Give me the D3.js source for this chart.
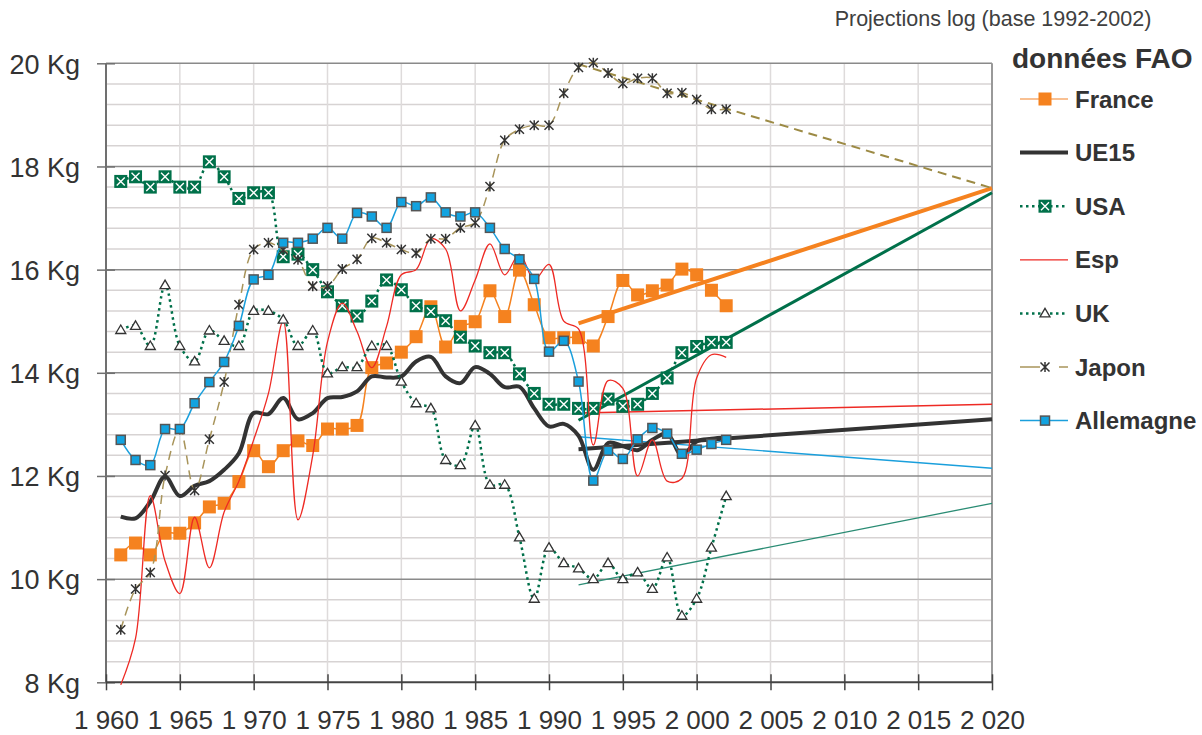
<!DOCTYPE html>
<html>
<head>
<meta charset="utf-8">
<script src="https://cdn.jsdelivr.net/npm/d3@7"></script>
<style>
  body { margin: 0; background: #fff; }
  svg { font-family: "Liberation Sans", Arial, sans-serif; }
</style>
</head>
<body>
<svg id="chart" width="1202" height="735"></svg>
<script>
// Data (kg per person, 1961-2002)
const years = d3.range(1961, 2003);

const france = [10.47, 10.7, 10.47, 10.89, 10.89, 11.09, 11.4, 11.47, 11.89, 12.49,
  12.18, 12.49, 12.68, 12.59, 12.91, 12.91, 12.98, 14.1, 14.19, 14.4,
  14.7, 15.28, 14.5, 14.9, 14.99, 15.59, 15.09, 15.99, 15.32, 14.68,
  14.68, 14.68, 14.52, 15.09, 15.79, 15.51, 15.59, 15.7, 16.01, 15.9,
  15.6, 15.3];

const ue15 = [11.21, 11.18, 11.5, 11.99, 11.61, 11.81, 11.9, 12.12, 12.44, 13.22,
  13.2, 13.51, 13.1, 13.22, 13.51, 13.53, 13.64, 13.93, 13.91, 13.93,
  14.22, 14.31, 13.93, 13.8, 14.11, 13.98, 13.72, 13.73, 13.31, 12.96,
  13.01, 12.78, 12.12, 12.64, 12.58, 12.5, 12.7, 12.82, 12.4, 12.67,
  12.72, 12.75];

const usa = [17.71, 17.8, 17.6, 17.8, 17.6, 17.6, 18.09, 17.8, 17.38, 17.49,
  17.49, 16.25, 16.3, 16.0, 15.57, 15.3, 15.1, 15.39, 15.8, 15.61,
  15.3, 15.19, 15.01, 14.69, 14.52, 14.39, 14.39, 13.98, 13.6, 13.39,
  13.39, 13.31, 13.31, 13.49, 13.35, 13.39, 13.6, 13.9, 14.39, 14.51,
  14.59, 14.59];

const esp = [7.95, 8.85, 11.62, 10.35, 9.72, 11.2, 10.22, 11.3, 11.9, 12.7,
  13.6, 15.0, 11.15, 12.4, 14.6, 15.35, 14.8, 14.1, 14.9, 15.9,
  16.0, 16.6, 16.4, 15.2, 15.8, 16.5, 15.9, 16.3, 15.8, 16.1,
  15.0, 14.85, 12.6, 13.85, 13.7, 12.0, 12.7, 11.9, 11.95, 13.9,
  14.35, 14.3];

const uk = [14.83, 14.91, 14.52, 15.7, 14.52, 14.22, 14.82, 14.62, 14.52, 15.2,
  15.2, 15.03, 14.52, 14.82, 13.99, 14.11, 14.11, 14.52, 14.52, 13.83,
  13.41, 13.31, 12.31, 12.21, 12.98, 11.83, 11.83, 10.81, 9.62, 10.61,
  10.31, 10.21, 10.0, 10.31, 10.0, 10.13, 9.81, 10.42, 9.29, 9.62,
  10.61, 11.61];

const japon = [9.02, 9.81, 10.13, 12.01, 12.9, 11.72, 12.71, 13.82, 15.32, 16.39,
  16.52, 16.38, 16.19, 15.68, 15.68, 16.01, 16.2, 16.61, 16.52, 16.39,
  16.32, 16.6, 16.6, 16.81, 16.91, 17.61, 18.51, 18.72, 18.8, 18.8,
  19.42, 19.92, 20.01, 19.81, 19.61, 19.71, 19.71, 19.42, 19.43, 19.3,
  19.11, 19.11];

const allemagne = [12.7, 12.31, 12.21, 12.91, 12.91, 13.41, 13.82, 14.21, 14.91, 15.81,
  15.9, 16.52, 16.52, 16.6, 16.81, 16.6, 17.1, 17.03, 16.81, 17.31,
  17.23, 17.4, 17.11, 17.03, 17.11, 16.81, 16.4, 16.2, 15.82, 14.41,
  14.62, 13.83, 11.91, 12.49, 12.33, 12.71, 12.93, 12.82, 12.43, 12.51,
  12.62, 12.7];

// Log projections (base 1992-2002), start and end values
const projYears = [1992, 2020];
const projFrance = [14.96, 17.58];
const projUe15 = [12.52, 13.1];
const projUsa = [13.08, 17.49];
const projEsp = [13.22, 13.39];
const projUk = [9.89, 11.47];
const projJapon = [19.98, 17.58];
const projAllemagne = [12.76, 12.15];

const xTicks = [1960, 1965, 1970, 1975, 1980, 1985, 1990, 1995, 2000, 2005, 2010, 2015, 2020];
const yTicks = [8, 10, 12, 14, 16, 18, 20];

// Layout
const svg = d3.select('#chart');
const plotLeft = 106, plotRight = 992, plotTop = 63.3, plotBottom = 682.3;

const x = d3.scaleLinear().domain([1960, 2020]).range([plotLeft, plotRight]);
const y = d3.scaleLinear().domain([8, 20]).range([plotBottom, plotTop]);

const fr = d3.formatLocale({ decimal: ',', thousands: '\u00a0', grouping: [3], currency: ['', ' €'] });
const yearFmt = fr.format(',');

// Grid
const grid = svg.append('g');
for (let i = 0; i <= 30; i++) {
  const v = 8 + i * 0.4;
  if (i % 5 === 0) continue;
  grid.append('line')
    .attr('x1', plotLeft).attr('x2', plotRight)
    .attr('y1', y(v)).attr('y2', y(v))
    .attr('stroke', '#d7d3d3').attr('stroke-width', 1.5);
}
grid.selectAll('.vgrid')
  .data(xTicks.slice(1, -1))
  .enter().append('line')
  .attr('x1', d => x(d)).attr('x2', d => x(d))
  .attr('y1', plotTop).attr('y2', plotBottom)
  .attr('stroke', '#dedbdb').attr('stroke-width', 1.5);
grid.selectAll('.hmajor')
  .data(yTicks.slice(1))
  .enter().append('line')
  .attr('x1', plotLeft).attr('x2', plotRight)
  .attr('y1', d => y(d)).attr('y2', d => y(d))
  .attr('stroke', '#8a8a8a').attr('stroke-width', 1.5);
// right border
grid.append('line')
  .attr('x1', plotRight).attr('x2', plotRight).attr('y1', plotTop).attr('y2', plotBottom)
  .attr('stroke', '#999').attr('stroke-width', 2);

// Axes
const yAxis = svg.append('g')
  .attr('transform', `translate(${plotLeft},0)`)
  .call(d3.axisLeft(y).tickValues(yTicks).tickSize(9).tickFormat(d => `${d} Kg`));
yAxis.select('.domain').attr('stroke', '#707070').attr('stroke-width', 2).attr('d', `M0,${plotTop}V${plotBottom}`);
yAxis.selectAll('.tick line').attr('x1', 9).attr('x2', -9).attr('stroke', '#707070').attr('stroke-width', 1.5);
yAxis.selectAll('.tick text')
  .attr('x', -26).attr('dy', '0.36em')
  .attr('fill', '#333').style('font-size', '27px').style('font-family', '"Liberation Sans", Arial, sans-serif');

const xAxis = svg.append('g')
  .attr('transform', `translate(0,${plotBottom})`)
  .call(d3.axisBottom(x).tickValues(xTicks).tickSize(8).tickFormat(yearFmt));
xAxis.select('.domain').attr('stroke', '#444').attr('stroke-width', 2).attr('d', `M${plotLeft},0H${plotRight}`);
xAxis.selectAll('.tick line').attr('y1', -8).attr('y2', 8).attr('stroke', '#444').attr('stroke-width', 1.5);
xAxis.selectAll('.tick text')
  .attr('y', 47).attr('dy', 0)
  .attr('fill', '#333').style('font-size', '26px').style('font-family', '"Liberation Sans", Arial, sans-serif');

// Projection lines
const projLine = d3.line().x((d, i) => x(projYears[i])).y(d => y(d));
const projections = [
  { vals: projUk, color: '#2a8c74', width: 1.3 },
  { vals: projAllemagne, color: '#1a9fdc', width: 1.3 },
  { vals: projEsp, color: '#ee2a24', width: 1.5 },
  { vals: projUe15, color: '#333', width: 4 },
  { vals: projUsa, color: '#00704a', width: 3 },
  { vals: projFrance, color: '#f5821f', width: 4 },
  { vals: projJapon, color: '#9c8a44', width: 2, dash: '9,6' }
];
projections.forEach(p => {
  svg.append('path')
    .attr('d', projLine(p.vals))
    .attr('fill', 'none')
    .attr('stroke', p.color)
    .attr('stroke-width', p.width)
    .attr('stroke-dasharray', p.dash || null);
});

// Marker shapes
const drawMarker = (g, kind, cx, cy) => {
  if (kind === 'square') {
    g.append('rect').attr('x', cx - 6.5).attr('y', cy - 6.5).attr('width', 13).attr('height', 13)
      .attr('fill', '#f5821f');
  } else if (kind === 'xsquare') {
    g.append('rect').attr('x', cx - 6.5).attr('y', cy - 6.5).attr('width', 13).attr('height', 13)
      .attr('fill', '#00714a');
    g.append('path').attr('d', `M${cx - 4},${cy - 4}L${cx + 4},${cy + 4}M${cx + 4},${cy - 4}L${cx - 4},${cy + 4}`)
      .attr('stroke', '#fff').attr('stroke-width', 1.4);
  } else if (kind === 'triangle') {
    g.append('path').attr('d', `M${cx},${cy - 5}L${cx + 5},${cy + 3.5}L${cx - 5},${cy + 3.5}Z`)
      .attr('fill', '#fff').attr('stroke', '#333').attr('stroke-width', 1.3);
  } else if (kind === 'star') {
    g.append('path').attr('d', `M${cx - 4.5},${cy - 4.5}L${cx + 4.5},${cy + 4.5}M${cx + 4.5},${cy - 4.5}L${cx - 4.5},${cy + 4.5}M${cx},${cy - 5}V${cy + 5}`)
      .attr('stroke', '#333').attr('stroke-width', 1.5);
  } else if (kind === 'bluesquare') {
    g.append('rect').attr('x', cx - 4.5).attr('y', cy - 4.5).attr('width', 9).attr('height', 9)
      .attr('fill', '#12a3e0').attr('stroke', '#555').attr('stroke-width', 1.5);
  }
};

// Series
const series = [
  { name: 'France', vals: france, color: '#f5821f', width: 1.5, marker: 'square' },
  { name: 'UE15', vals: ue15, color: '#333', width: 4, marker: null },
  { name: 'USA', vals: usa, color: '#00704a', width: 2.5, dash: '2.5,3.5', marker: 'xsquare' },
  { name: 'Esp', vals: esp, color: '#ee2a24', width: 1.3, marker: null },
  { name: 'UK', vals: uk, color: '#00704a', width: 2.5, dash: '2.5,3.5', marker: 'triangle' },
  { name: 'Japon', vals: japon, color: '#a8945a', width: 1.5, dash: '9,6', marker: 'star' },
  { name: 'Allemagne', vals: allemagne, color: '#1a9fdc', width: 1.5, marker: 'bluesquare' }
];

const line = d3.line()
  .x((d, i) => x(years[i]))
  .y(d => y(d))
  .curve(d3.curveCatmullRom.alpha(0.5));

series.forEach(s => {
  const g = svg.append('g');
  g.append('path')
    .attr('d', line(s.vals))
    .attr('fill', 'none')
    .attr('stroke', s.color)
    .attr('stroke-width', s.width)
    .attr('stroke-dasharray', s.dash || null);
  if (s.marker) {
    s.vals.forEach((v, i) => drawMarker(g, s.marker, x(years[i]), y(v)));
  }
});

// Title and legend
svg.append('text')
  .attr('x', 993).attr('y', 26)
  .attr('text-anchor', 'middle')
  .attr('fill', '#404040')
  .style('font-size', '21.5px')
  .text('Projections log (base 1992-2002)');

svg.append('text')
  .attr('x', 1012).attr('y', 68)
  .attr('fill', '#333')
  .style('font-size', '28px').style('font-weight', 'bold')
  .text('données FAO');

const legend = svg.append('g');
series.forEach((s, i) => {
  const ly = 99 + i * 53.6;
  if (s.name === 'Japon') {
    legend.append('line').attr('x1', 1020).attr('x2', 1040).attr('y1', ly).attr('y2', ly)
      .attr('stroke', s.color).attr('stroke-width', 1.5);
    legend.append('line').attr('x1', 1059).attr('x2', 1068).attr('y1', ly).attr('y2', ly)
      .attr('stroke', s.color).attr('stroke-width', 1.5);
  } else {
    legend.append('line').attr('x1', 1020).attr('x2', 1068).attr('y1', ly).attr('y2', ly)
      .attr('stroke', s.name === 'France' ? '#f7ab6e' : s.color)
      .attr('stroke-width', s.name === 'UE15' ? 4 : s.width)
      .attr('stroke-dasharray', s.dash || null);
  }
  if (s.marker) drawMarker(legend, s.marker, 1045, ly);
  legend.append('text')
    .attr('x', 1075).attr('y', ly).attr('dy', '0.36em')
    .attr('fill', '#333')
    .style('font-size', '24px').style('font-weight', 'bold')
    .text(s.name);
});
</script>
</body>
</html>
